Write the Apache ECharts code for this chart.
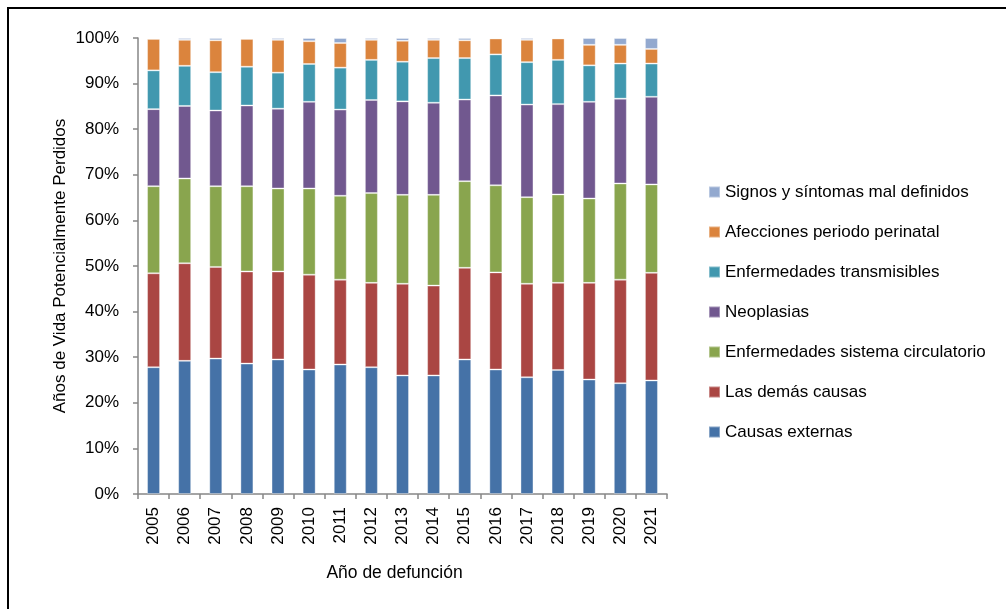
<!DOCTYPE html>
<html>
<head>
<meta charset="utf-8">
<script src="https://cdn.jsdelivr.net/npm/echarts@6/dist/echarts.min.js"></script>
<style>
html,body{margin:0;padding:0;background:#fff;}
#chart{width:1006px;height:609px;}
</style>
</head>
<body>
<div id="chart"></div>
<script>
var years = ['2005','2006','2007','2008','2009','2010','2011','2012','2013','2014','2015','2016','2017','2018','2019','2020','2021'];
var causasExternas = [27.8,29.2,29.7,28.6,29.5,27.3,28.4,27.8,26.0,26.0,29.5,27.3,25.6,27.2,25.1,24.3,24.9];
var lasDemas       = [20.6,21.4,20.1,20.2,19.3,20.8,18.6,18.5,20.1,19.7,20.1,21.3,20.5,19.1,21.2,22.7,23.6];
var circulatorio   = [19.1,18.6,17.7,18.7,18.2,18.9,18.4,19.7,19.5,19.9,19.0,19.1,19.0,19.4,18.5,21.1,19.4];
var neoplasias     = [16.9,15.9,16.6,17.7,17.5,19.0,18.9,20.4,20.5,20.2,17.9,19.7,20.3,19.8,21.2,18.6,19.2];
var transmisibles  = [8.5,8.8,8.4,8.5,7.9,8.3,9.2,8.8,8.7,9.8,9.1,9.0,9.3,9.7,8.0,7.7,7.3];
var perinatal      = [6.9,5.7,7.0,6.1,7.2,5.0,5.4,4.4,4.6,4.0,3.9,3.5,4.9,4.7,4.5,4.1,3.2];
var signos         = [0.2,0.4,0.5,0.2,0.4,0.7,1.1,0.4,0.6,0.4,0.5,0.1,0.4,0.1,1.5,1.5,2.4];
var yTicks = ['0%','10%','20%','30%','40%','50%','60%','70%','80%','90%','100%'];

var names = ['Causas externas','Las demás causas','Enfermedades sistema circulatorio','Neoplasias','Enfermedades transmisibles','Afecciones periodo perinatal','Signos y síntomas mal definidos'];
var values = [causasExternas, lasDemas, circulatorio, neoplasias, transmisibles, perinatal, signos];
var colors = ['#4572A7','#AA4643','#89A54E','#71588F','#4198AF','#DB843D','#93A9CF'];

var FONT = '"Liberation Sans", Arial, sans-serif';
var chart = echarts.init(document.getElementById('chart'), null, {renderer:'canvas'});

var series = names.map(function(n, i){
  return {
    name: n, type: 'bar', stack: 'total', barWidth: 13,
    data: values[i],
    itemStyle: {color: colors[i], borderColor: 'rgba(255,255,255,0.35)', borderWidth: 1},
    emphasis: {disabled: true}
  };
});

chart.setOption({
  animation: false,
  backgroundColor: '#fff',
  textStyle: {fontFamily: FONT},
  graphic: [{
    type: 'rect', shape: {x: 8, y: 8, width: 1200, height: 800},
    style: {fill: 'none', stroke: '#000', lineWidth: 2}, silent: true
  }],
  grid: {left: 138, right: 339, top: 38, bottom: 115, containLabel: false},
  legend: {
    orient: 'vertical', left: 708, top: 182, padding: 0,
    data: names.slice().reverse(),
    icon: 'rect', itemWidth: 11, itemHeight: 11, itemGap: 20,
    textStyle: {fontFamily: FONT, fontSize: 17, color: '#000', lineHeight: 20},
    selectedMode: false
  },
  xAxis: {
    type: 'category', data: years,
    name: 'Año de defunción', nameLocation: 'middle', nameGap: 70,
    nameTextStyle: {fontFamily: FONT, fontSize: 17.5, color: '#000', padding: [0, 16, 0, 0]},
    axisLine: {lineStyle: {color: '#868686', width: 1.5}},
    axisTick: {show: true, length: 5, alignWithLabel: false, lineStyle: {color: '#868686', width: 1.5}},
    axisLabel: {rotate: 90, fontFamily: FONT, fontSize: 17, color: '#000', margin: 13}
  },
  yAxis: {
    type: 'value', min: 0, max: 100, interval: 10,
    name: 'Años de Vida Potencialmente Perdidos', nameLocation: 'middle', nameGap: 69,
    nameMoveOverlap: false,
    nameTextStyle: {fontFamily: FONT, fontSize: 17, color: '#000'},
    axisLine: {show: true, lineStyle: {color: '#868686', width: 1.5}},
    axisTick: {show: true, length: 5, lineStyle: {color: '#868686', width: 1.5}},
    splitLine: {show: false},
    axisLabel: {fontFamily: FONT, fontSize: 17, color: '#000', margin: 19,
      formatter: function(v){ return yTicks[Math.round(v/10)]; }}
  },
  series: series
});
</script>
</body>
</html>
